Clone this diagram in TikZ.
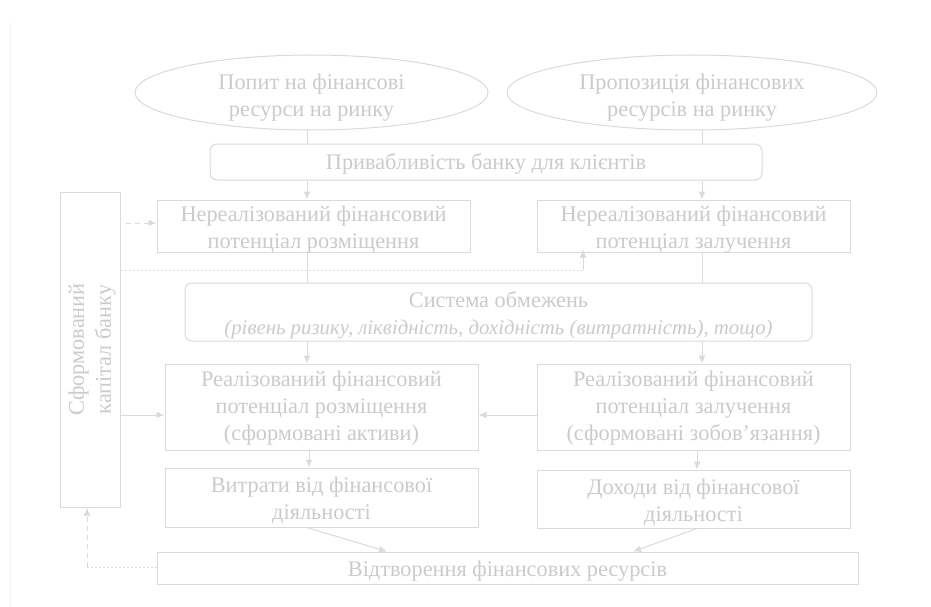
\documentclass[tikz,border=0pt]{standalone}
\usepackage{fontspec}
\setmainfont{Liberation Serif}
\usetikzlibrary{arrows.meta,shapes.geometric}
\definecolor{txt}{RGB}{203,203,203}
\definecolor{ln}{RGB}{218,218,218}
\definecolor{frame}{RGB}{242,242,242}
\begin{document}
\begin{tikzpicture}[x=1pt,y=-1pt,
  every node/.style={text=txt,font=\fontsize{22.3}{27}\selectfont,align=center,inner sep=0pt},
  box/.style={draw=ln,line width=1pt,fill=white,rectangle},
  rbox/.style={box,rounded corners=7pt},
  oval/.style={draw=ln,line width=1pt,fill=white,ellipse},
  conn/.style={draw=ln,line width=1pt},
  arr/.style={conn,-{Latex[length=8pt,width=7pt]}},
  dsh/.style={arr,dash pattern=on 5pt off 4pt},
  dtt/.style={conn,dash pattern=on 2pt off 2pt}]
\useasboundingbox (0,0) rectangle (931,607);
\draw[frame,line width=1pt] (10,23) -- (10,607);
% shapes
\node[oval,minimum width=353,minimum height=75] (e1) at (311.5,92.5) {};
\node[oval,minimum width=370,minimum height=75] (e2) at (692,92.5) {};
\node[rbox,minimum width=552,minimum height=36] (attr) at (486,162) {};
\node[box,minimum width=313,minimum height=52] (nr1) at (313.5,226) {};
\node[box,minimum width=313,minimum height=52] (nr2) at (693.5,226) {};
\node[box,minimum width=60,minimum height=315] (cap) at (90,349.5) {};
\node[rbox,minimum width=627,minimum height=58] (sys) at (498.5,312) {};
\node[box,minimum width=313,minimum height=86] (r1) at (321.5,407) {};
\node[box,minimum width=313,minimum height=86] (r2) at (693.5,407) {};
\node[box,minimum width=313,minimum height=59] (c1) at (321.5,497.5) {};
\node[box,minimum width=313,minimum height=58] (c2) at (693.5,499) {};
\node[box,minimum width=701,minimum height=32] (rep) at (507.5,568) {};
% texts
\node (e1t) at ([yshift=-5pt]e1.center) {Попит на фінансові\\ресурси на ринку};
\node (e2t) at ([yshift=-5pt]e2.center) {Пропозиція фінансових\\ресурсів на ринку};
\node (attrt) at ([yshift=-2pt]attr.center) {Привабливість банку для клієнтів};
\node (nr1t) at ([yshift=-3.5pt]nr1.center) {Нереалізований фінансовий\\потенціал розміщення};
\node (nr2t) at ([yshift=-3.5pt]nr2.center) {Нереалізований фінансовий\\потенціал залучення};
\node[rotate=90] (capt) at (92,349.5) {Сформований\\капітал банку};
\node (syst) at ([yshift=-3pt]sys.center) {Система обмежень\\{\fontsize{20.8}{26}\selectfont\itshape (рівень ризику, ліквідність, дохідність (витратність), тощо)}};
\node (r1t) at ([yshift=-1.5pt]r1.center) {Реалізований фінансовий\\потенціал розміщення\\(сформовані активи)};
\node (r2t) at ([yshift=-1.5pt]r2.center) {Реалізований фінансовий\\потенціал залучення\\(сформовані зобов’язання)};
\node (c1t) at ([yshift=-3pt]c1.center) {Витрати від фінансової\\діяльності};
\node (c2t) at ([yshift=-3pt]c2.center) {Доходи від фінансової\\діяльності};
\node (rept) at ([yshift=-3pt]rep.center) {Відтворення фінансових ресурсів};
% columns
\coordinate (L) at (307,0);
\coordinate (R) at (702,0);
\coordinate (Lb) at (309,0);
\coordinate (Rb) at (697,0);
\coordinate (yA) at (0,223);
\coordinate (yD) at (0,270);
\coordinate (xD) at (583,0);
\coordinate (yR) at (0,415);
\coordinate (yB) at (0,567);
\coordinate (xB) at (87,0);
\coordinate (t1) at (387,0);
\coordinate (t2) at (633,0);
% connectors
\draw[conn] (e1.south -| L) -- (attr.north -| L);
\draw[conn] (e2.south -| R) -- (attr.north -| R);
\draw[arr] (attr.south -| L) -- (nr1.north -| L);
\draw[arr] (attr.south -| R) -- (nr2.north -| R);
\draw[conn] (nr1.south -| L) -- (sys.north -| L);
\draw[conn] (nr2.south -| R) -- (sys.north -| R);
\draw[arr] (sys.south -| L) -- (r1.north -| L);
\draw[arr] (sys.south -| R) -- (r2.north -| R);
\draw[arr] (r1.south -| Lb) -- (c1.north -| Lb);
\draw[arr] (r2.south -| Rb) -- (c2.north -| Rb);
\draw[arr] (r2.west |- yR) -- (r1.east |- yR);
\draw[arr] (cap.east |- yR) -- (r1.west |- yR);
\draw[dsh] (cap.east |- yA) ++(5,0) -- (nr1.west |- yA);
\draw[dtt] (cap.east |- yD) -- (xD |- yD);
\draw[arr] (xD |- yD) -- ([yshift=3pt]nr2.south -| xD);
\draw[arr] (c1.south -| L) -- (rep.north -| t1);
\draw[arr] (c2.south -| Rb) -- (rep.north -| t2);
\draw[dtt] (rep.west |- yB) -- (xB |- yB);
\draw[dsh] (xB |- yB) -- (cap.south -| xB);
\end{tikzpicture}
\end{document}
